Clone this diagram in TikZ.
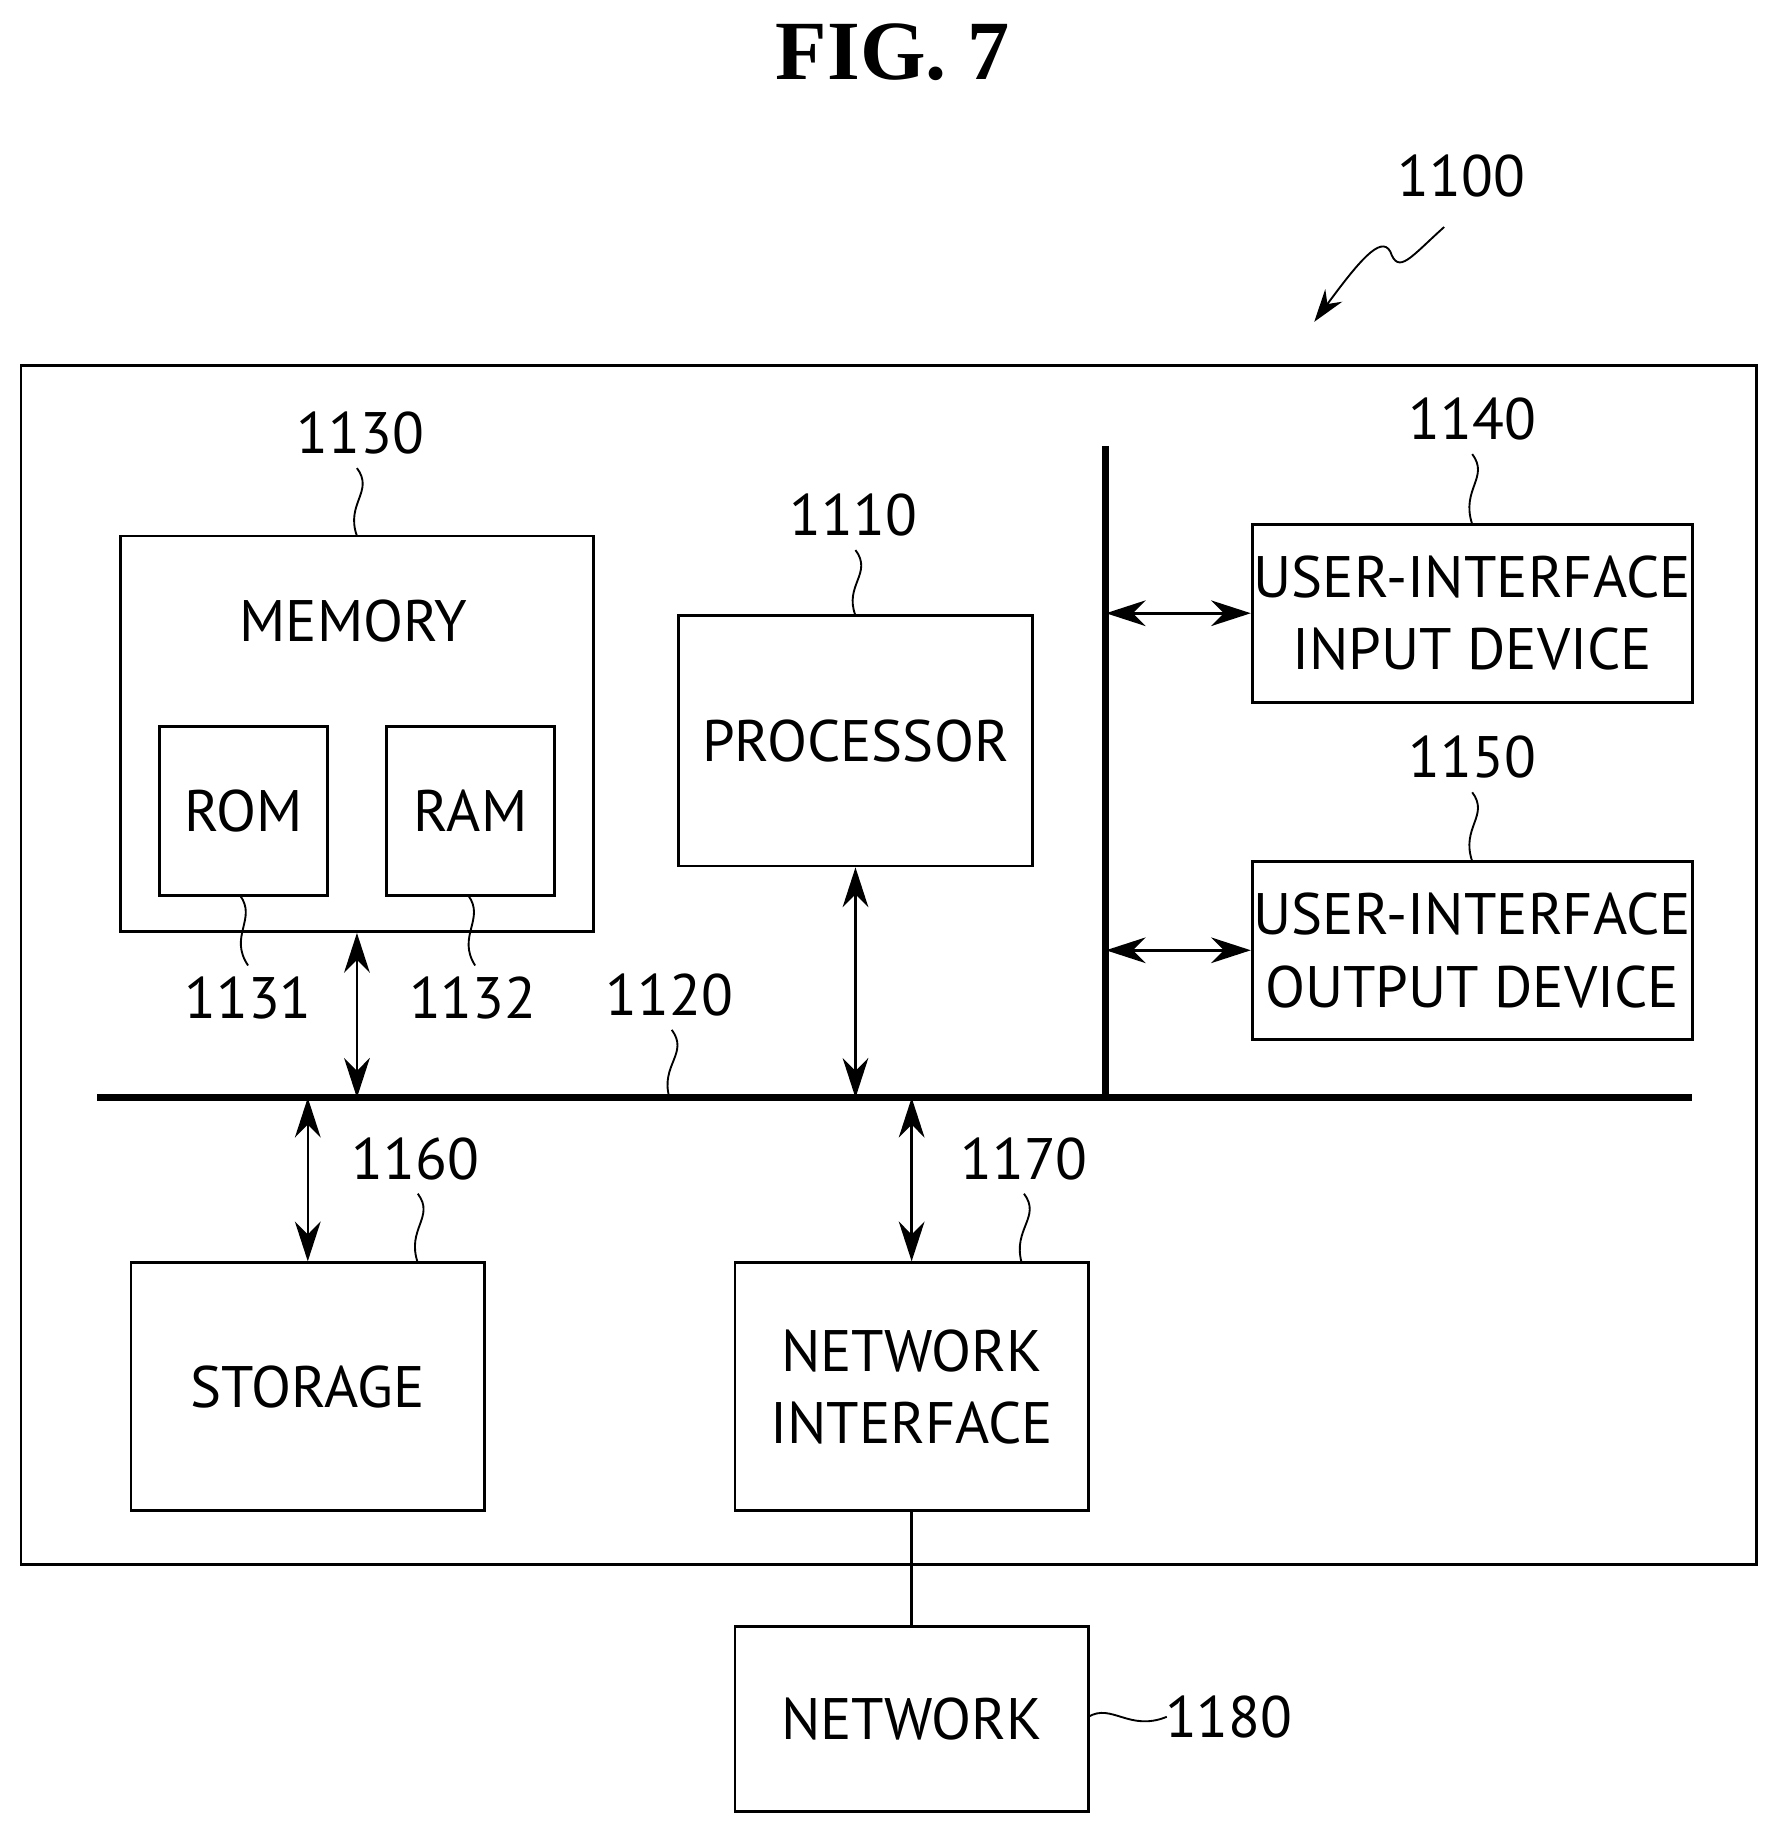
\documentclass[tikz,border=0pt]{standalone}
\usepackage{fontspec}
\setmainfont{PT Sans}
\newfontfamily\titlefont{Liberation Serif}
\usetikzlibrary{arrows.meta}
\tikzset{every picture/.style={line width=1pt}}
\tikzset{
  blk/.style={draw, line width=1.2pt, inner sep=0pt, align=center, font=\fontsize{25}{31}\selectfont},
  lbl/.style={inner sep=1pt, font=\fontsize{25}{30}\selectfont},
  bus/.style={line width=3pt},
  link/.style={line width=1.1pt, {Stealth[length=17pt,width=11pt]}-{Stealth[length=17pt,width=11pt]}},
  wave/.style={line width=0.8pt}
}
\begin{document}
\begin{tikzpicture}[x=0.5pt,y=-0.5pt]
    \useasboundingbox (0,0) rectangle (1520,1568);

    % title
    \node[font=\titlefont\bfseries\fontsize{36}{40}\selectfont] (title) at (763,45) {FIG. 7};

    % outer box
    \draw[line width=1.2pt] (18,312) rectangle (1501,1337);

    % blocks
    \node[blk, minimum width=202pt, minimum height=169pt] (mem) at (305,627) {};
    \node[lbl] (memtxt) at (302,531) {MEMORY};
    \node[blk, minimum width=72pt, minimum height=72pt] (rom) at (208,693) {ROM};
    \node[blk, minimum width=72pt, minimum height=72pt] (ram) at (402,693) {RAM};
    \node[blk, minimum width=151pt, minimum height=107pt] (proc) at (731,633) {PROCESSOR};
    \node[blk, minimum width=188pt, minimum height=76pt] (uin) at (1258,524) {USER-INTERFACE\\INPUT DEVICE};
    \node[blk, minimum width=188pt, minimum height=76pt] (uout) at (1258,812) {USER-INTERFACE\\OUTPUT DEVICE};
    \node[blk, minimum width=151pt, minimum height=106pt] (stor) at (263,1185) {STORAGE};
    \node[blk, minimum width=151pt, minimum height=106pt] (nif) at (779,1185) {NETWORK\\INTERFACE};
    \node[blk, minimum width=151pt, minimum height=79pt] (net) at (779,1469) {NETWORK};

    % buses
    \coordinate (busL) at (83,938);
    \coordinate (busR) at (1446,938);
    \coordinate (vbT) at (945,381);
    \coordinate (vbB) at (945,938);
    \draw[bus] (busL) -- (busR);
    \draw[bus] (vbT) -- (vbB);

    % connectors
    \draw[link] (mem.south -| 305,0) -- (305,938);
    \draw[link] (proc.south) -- (731,938);
    \draw[link] (945,524) -- (uin.west);
    \draw[link] (945,812) -- (uout.west);
    \draw[link] (263,938) -- (stor.north);
    \draw[link] (779,938) -- (nif.north);
    \draw[line width=1.1pt] (nif.south) -- (net.north);

    % reference numerals
    \node[lbl] (n1100) at (1249,150) {1100};
    \draw[wave, -{Stealth[length=14pt,width=9pt]}] (1234,194) .. controls (1205,220) and (1195,235) .. (1188,215) .. controls (1180,200) and (1160,225) .. (1123,275);
    \node[lbl] (n1130) at (308,370) {1130};
    \draw[wave] (305,400) .. controls (320,420) and (295,430) .. (305,458);
    \node[lbl] (n1110) at (729,440) {1110};
    \draw[wave] (731,470) .. controls (746,490) and (721,500) .. (731,526);
    \node[lbl] (n1140) at (1258,358) {1140};
    \draw[wave] (1258,388) .. controls (1273,408) and (1248,418) .. (1258,448);
    \node[lbl] (n1150) at (1258,647) {1150};
    \draw[wave] (1258,677) .. controls (1273,697) and (1248,707) .. (1258,736);
    \node[lbl] (n1131) at (212,853) {1131};
    \draw[wave] (205,765) .. controls (220,785) and (195,800) .. (212,825);
    \node[lbl] (n1132) at (404,853) {1132};
    \draw[wave] (400,765) .. controls (415,785) and (390,800) .. (406,825);
    \node[lbl] (n1120) at (572,850) {1120};
    \draw[wave] (574,880) .. controls (589,900) and (564,910) .. (572,938);
    \node[lbl] (n1160) at (355,990) {1160};
    \draw[wave] (357,1020) .. controls (372,1040) and (347,1050) .. (357,1079);
    \node[lbl] (n1170) at (875,990) {1170};
    \draw[wave] (875,1020) .. controls (890,1040) and (865,1050) .. (873,1079);
    \node[lbl] (n1180) at (1050,1467) {1180};
    \draw[wave] (930,1467) .. controls (950,1455) and (965,1480) .. (997,1467);
\end{tikzpicture}
\end{document}
